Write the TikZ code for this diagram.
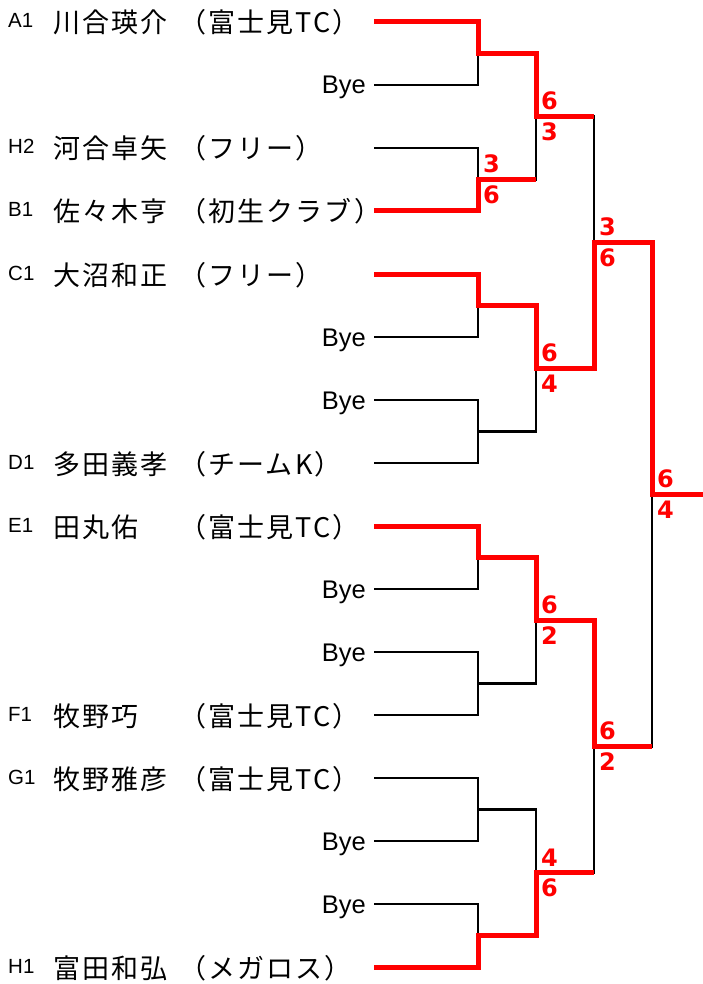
\documentclass[tikz,border=0pt]{standalone}
\usepackage{fontspec}
\setmainfont{Liberation Sans}
\newfontfamily\jpfont[LetterSpace=8]{Noto Sans CJK JP}
\newfontfamily\scorefont{DejaVu Sans}
\usetikzlibrary{calc}
\definecolor{winred}{RGB}{255,0,0}
\tikzstyle{seed}=[anchor=base west,inner sep=0pt,font=\fontsize{20.5}{20.5}\selectfont]
\tikzstyle{player}=[anchor=base west,inner sep=0pt,font=\jpfont\fontsize{27}{27}\selectfont]
\tikzstyle{bye}=[anchor=base east,inner sep=0pt,font=\fontsize{25.5}{25.5}\selectfont]
\tikzstyle{line} = [draw,line width=2.6pt]
\tikzstyle{winline} = [draw,winred,line width=5pt]
\tikzstyle{scoreup} = [anchor=south west,inner sep=0pt,text=winred,font=\scorefont\bfseries\fontsize{24}{24}\selectfont]
\tikzstyle{scoredown} = [anchor=north west,inner sep=0pt,text=winred,font=\scorefont\bfseries\fontsize{24}{24}\selectfont]

\begin{document}
\begin{tikzpicture}[x=1pt,y=-1pt]
    \useasboundingbox (0,0) rectangle (703,984);

    % start of each entry line
    \foreach \i in {0,...,15}
        \coordinate (p\i) at (374,{22+63*\i});

    % junctions of each round
    \foreach \k in {0,...,7}
        \coordinate (a\k) at (478,{53.5+126*\k});
    \foreach \k in {0,...,3}
        \coordinate (b\k) at (536,{116.5+252*\k});
    \foreach \k in {0,1}
        \coordinate (c\k) at (594,{242.5+504*\k});
    \coordinate (d0) at (652,494.5);
    \coordinate (fin) at (703,494.5);

    % players
    \foreach \i/\seed/\name/\team in {0/A1/川合瑛介/（富士見TC）, 2/H2/河合卓矢/（フリー）,
        3/B1/佐々木亨/（初生クラブ）, 4/C1/大沼和正/（フリー）, 7/D1/多田義孝/（チームK）,
        8/E1/田丸佑/（富士見TC）, 11/F1/牧野巧/（富士見TC）, 12/G1/牧野雅彦/（富士見TC）,
        15/H1/富田和弘/（メガロス）}
    {
        \node[seed] (s\i) at (8,{28+63*\i}) {\seed};
        \node[player] (n\i) at (53,{33+63*\i}) {\name};
        \node[player] (t\i) at (179,{33+63*\i}) {\team};
    }
    \foreach \i in {1,5,6,9,10,13,14}
        \node[bye] (bye\i) at (366,{31+63*\i}) {Bye};

    % brackets
    \foreach \first/\second/\meet in {p0/p1/a0, p2/p3/a1, p4/p5/a2, p6/p7/a3,
        p8/p9/a4, p10/p11/a5, p12/p13/a6, p14/p15/a7,
        a0/a1/b0, a2/a3/b1, a4/a5/b2, a6/a7/b3, b0/b1/c0, b2/b3/c1, c0/c1/d0}
        \path[line] (\first) -| (\meet) |- (\second);
    \path[line] (d0) -- (fin);

    % winners
    \path[winline] (p0) -| (a0) -| (b0) -- (b0 -| c0);
    \path[winline] (p3) -| (a1) -- (a1 -| b0);
    \path[winline] (p4) -| (a2) -| (b1) -| (c0) -| (d0) -- (fin);
    \path[winline] (p8) -| (a4) -| (b2) -| (c1) -- (c1 -| d0);
    \path[winline] (p15) -| (a7) -| (b3) -- (b3 -| c1);

    % scores
    \foreach \meet/\sa/\sb in {a1/3/6, b0/6/3, b1/6/4, b2/6/2, b3/4/6, c0/3/6, c1/6/2, d0/6/4}
    {
        \node[scoreup] (\meet-up) at ($(\meet)+(5,-6)$) {\sa};
        \node[scoredown] (\meet-down) at ($(\meet)+(5,6)$) {\sb};
    }
\end{tikzpicture}
\end{document}
